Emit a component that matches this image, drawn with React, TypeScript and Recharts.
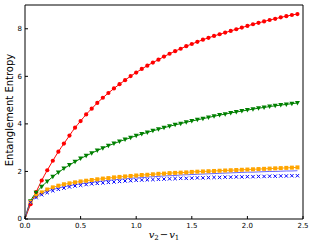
import { ComposedChart, Line, XAxis, YAxis } from "recharts";

// v2 - v1 sample positions of the numerical points
const xs = [
  0.05, 0.1, 0.15, 0.2, 0.25, 0.3, 0.35, 0.4, 0.45, 0.5,
  0.55, 0.6, 0.65, 0.7, 0.75, 0.8, 0.85, 0.9, 0.95, 1.0,
  1.05, 1.1, 1.15, 1.2, 1.25, 1.3, 1.35, 1.4, 1.45, 1.5,
  1.55, 1.6, 1.65, 1.7, 1.75, 1.8, 1.85, 1.9, 1.95, 2.0,
  2.05, 2.1, 2.15, 2.2, 2.25, 2.3, 2.35, 2.4, 2.45,
];

const red = [
  0.62, 1.13, 1.62, 2.05, 2.45, 2.83, 3.17, 3.51, 3.84, 4.12,
  4.4, 4.64, 4.88, 5.1, 5.3, 5.49, 5.67, 5.84, 6.01, 6.16,
  6.31, 6.45, 6.58, 6.7, 6.83, 6.95, 7.06, 7.16, 7.27, 7.36,
  7.45, 7.54, 7.62, 7.7, 7.77, 7.84, 7.91, 7.98, 8.05, 8.12,
  8.19, 8.25, 8.31, 8.37, 8.42, 8.48, 8.53, 8.58, 8.62,
];

const green = [
  0.75, 1.1, 1.36, 1.58, 1.78, 1.96, 2.12, 2.27, 2.41, 2.54,
  2.66, 2.77, 2.88, 2.98, 3.08, 3.17, 3.26, 3.34, 3.42, 3.5,
  3.57, 3.64, 3.71, 3.77, 3.84, 3.9, 3.96, 4.01, 4.07, 4.12,
  4.17, 4.22, 4.27, 4.32, 4.37, 4.41, 4.46, 4.5, 4.54, 4.58,
  4.62, 4.66, 4.69, 4.73, 4.76, 4.79, 4.82, 4.85, 4.88,
];

const orange = [
  0.72, 0.97, 1.12, 1.24, 1.33, 1.4, 1.46, 1.5, 1.54, 1.58,
  1.61, 1.64, 1.67, 1.7, 1.72, 1.75, 1.77, 1.79, 1.81, 1.83,
  1.85, 1.86, 1.88, 1.9, 1.91, 1.93, 1.94, 1.95, 1.96, 1.98,
  1.99, 2.0, 2.01, 2.02, 2.03, 2.04, 2.05, 2.06, 2.07, 2.08,
  2.09, 2.1, 2.11, 2.12, 2.13, 2.14, 2.15, 2.16, 2.17,
];

const blueCross = [
  0.7, 0.9, 1.02, 1.11, 1.19, 1.25, 1.3, 1.35, 1.39, 1.42,
  1.45, 1.48, 1.5, 1.52, 1.54, 1.56, 1.58, 1.6, 1.61, 1.63,
  1.64, 1.65, 1.66, 1.67, 1.68, 1.69, 1.7, 1.71, 1.71, 1.72,
  1.73, 1.73, 1.74, 1.75, 1.75, 1.76, 1.76, 1.77, 1.77, 1.78,
  1.78, 1.79, 1.79, 1.8, 1.8, 1.81, 1.81, 1.82, 1.82,
];

// analytic curve for the blue case (drifts above the crosses)
const blueLine = [
  0.72, 0.93, 1.06, 1.16, 1.24, 1.3, 1.35, 1.4, 1.44, 1.48,
  1.51, 1.54, 1.57, 1.6, 1.62, 1.65, 1.67, 1.69, 1.71, 1.73,
  1.74, 1.76, 1.78, 1.79, 1.81, 1.82, 1.83, 1.85, 1.86, 1.87,
  1.88, 1.89, 1.9, 1.91, 1.92, 1.93, 1.94, 1.95, 1.96, 1.97,
  1.97, 1.98, 1.99, 2.0, 2.0, 2.01, 2.02, 2.02, 2.03,
];

const xTicks = [0, 0.5, 1.0, 1.5, 2.0, 2.5];
const yTicks = [0, 2, 4, 6, 8];

const rows = [
  { x: 0, redLine: 0, greenLine: 0, orangeLine: 0, blueLine: 0 },
  ...xs.map((x, i) => ({
    x,
    redLine: red[i],
    greenLine: green[i],
    orangeLine: orange[i],
    blueLine: blueLine[i],
    red: red[i],
    green: green[i],
    orange: orange[i],
    blue: blueCross[i],
  })),
];

const tickFont = { fontSize: 7, fontFamily: "DejaVu Sans", fill: "#000" };

const Circle = (p: any) => {
  if (p.cx == null || p.cy == null) return <g key={p.key} />;
  return <circle key={p.key} cx={p.cx} cy={p.cy} r={2.1} fill="#ff0000" />;
};

const TriDown = (p: any) => {
  if (p.cx == null || p.cy == null) return <g key={p.key} />;
  const { cx, cy } = p;
  return (
    <polygon
      key={p.key}
      points={`${cx - 2.5},${cy - 2} ${cx + 2.5},${cy - 2} ${cx},${cy + 2.5}`}
      fill="#008000"
    />
  );
};

const Square = (p: any) => {
  if (p.cx == null || p.cy == null) return <g key={p.key} />;
  return <rect key={p.key} x={p.cx - 2} y={p.cy - 2} width={4} height={4} fill="#ffa500" />;
};

const Cross = (p: any) => {
  if (p.cx == null || p.cy == null) return <g key={p.key} />;
  const { cx, cy } = p;
  const d = 1.7;
  return (
    <path
      key={p.key}
      d={`M${cx - d},${cy - d}L${cx + d},${cy + d}M${cx - d},${cy + d}L${cx + d},${cy - d}`}
      stroke="#0000ff"
      strokeWidth={1}
    />
  );
};

const YLabel = (props: any) => {
  const vb = props.viewBox;
  const cy = vb.y + vb.height / 2 - 2;
  return (
    <text
      x={13}
      y={cy}
      transform={`rotate(-90, 13, ${cy})`}
      textAnchor="middle"
      fontSize={10}
      fontFamily="DejaVu Sans"
      fill="#000"
    >
      Entanglement Entropy
    </text>
  );
};

const XLabel = (props: any) => {
  const vb = props.viewBox;
  const cx = vb.x + vb.width / 2;
  return (
    <text x={cx} y={238} textAnchor="middle" fontSize={10} fontFamily="DejaVu Serif" fill="#000">
      <tspan fontStyle="italic">v</tspan>
      <tspan fontSize={7} dy={2}>2</tspan>
      <tspan dy={-2} dx={1}>−</tspan>
      <tspan fontStyle="italic" dx={1}>v</tspan>
      <tspan fontSize={7} dy={2}>1</tspan>
    </text>
  );
};

export default function App() {
  return (
    <div style={{ position: "absolute", left: 0, top: 0, background: "#fff" }}>
      <ComposedChart
        width={313}
        height={248}
        data={rows}
        margin={{ top: 5, right: 10, bottom: 0, left: 0 }}
      >
        <XAxis
          dataKey="x"
          type="number"
          domain={[0, 2.5]}
          ticks={xTicks}
          interval={0}
          height={29}
          tickSize={-3}
          tickMargin={7}
          tickFormatter={(v: number) => v.toFixed(1)}
          tick={tickFont}
          stroke="#000"
          label={XLabel}
        />
        <XAxis
          xAxisId="top"
          orientation="top"
          mirror
          type="number"
          domain={[0, 2.5]}
          ticks={xTicks}
          interval={0}
          tickSize={3}
          tick={false}
          stroke="#000"
        />
        <YAxis
          type="number"
          domain={[0, 9]}
          ticks={yTicks}
          interval={0}
          width={25}
          tickSize={-3}
          tickMargin={6}
          tick={tickFont}
          stroke="#000"
          label={YLabel}
        />
        <YAxis
          yAxisId="right"
          orientation="right"
          mirror
          type="number"
          domain={[0, 9]}
          ticks={yTicks}
          interval={0}
          tickSize={3}
          tick={false}
          stroke="#000"
        />
        <Line dataKey="redLine" type="monotone" stroke="#ff0000" strokeWidth={1} dot={false} isAnimationActive={false} />
        <Line dataKey="red" stroke="none" dot={Circle} activeDot={false} isAnimationActive={false} />
        <Line dataKey="greenLine" type="monotone" stroke="#008000" strokeWidth={1} dot={false} isAnimationActive={false} />
        <Line dataKey="green" stroke="none" dot={TriDown} activeDot={false} isAnimationActive={false} />
        <Line dataKey="orangeLine" type="monotone" stroke="#ffa500" strokeWidth={1} dot={false} isAnimationActive={false} />
        <Line dataKey="orange" stroke="none" dot={Square} activeDot={false} isAnimationActive={false} />
        <Line dataKey="blueLine" type="monotone" stroke="#0000ff" strokeOpacity={0.6} strokeWidth={1} dot={false} isAnimationActive={false} />
        <Line dataKey="blue" stroke="none" dot={Cross} activeDot={false} isAnimationActive={false} />
      </ComposedChart>
    </div>
  );
}
